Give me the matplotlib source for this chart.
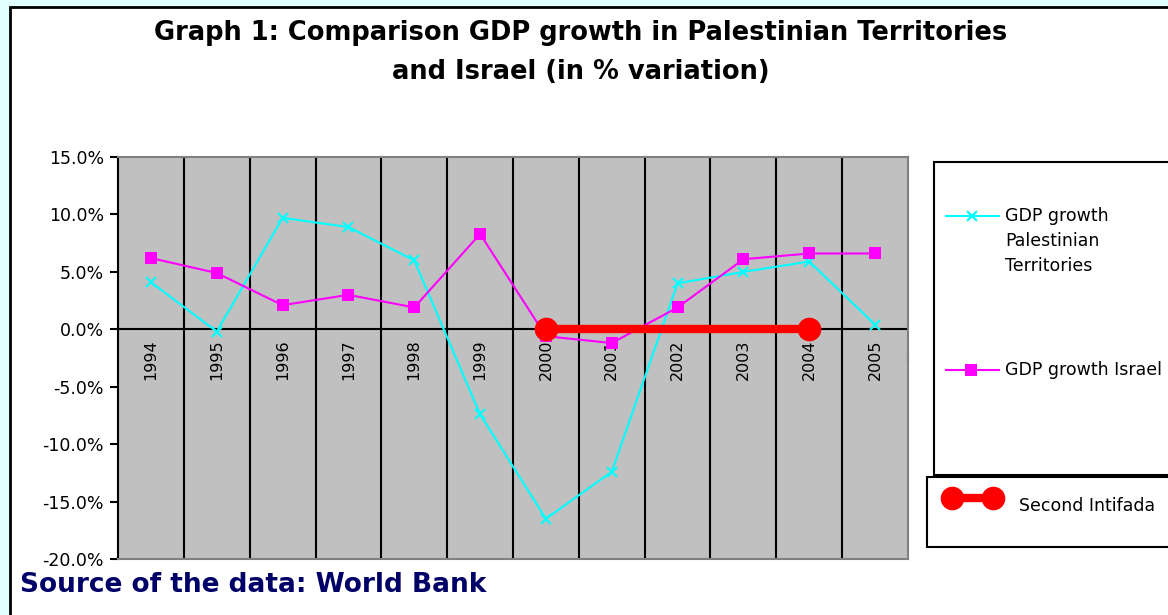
import matplotlib
matplotlib.use("Agg")
import matplotlib.pyplot as plt
from matplotlib.patches import Rectangle
from matplotlib.lines import Line2D

years = ["1994", "1995", "1996", "1997", "1998", "1999", "2000", "2001", "2002", "2003", "2004", "2005"]
gdp_palestine = [4.1, -0.2, 9.7, 8.9, 6.0, -7.4, -16.5, -12.4, 4.0, 5.0, 5.9, 0.4]
gdp_israel = [6.2, 4.9, 2.1, 3.0, 1.9, 8.3, -0.6, -1.2, 1.9, 6.1, 6.6, 6.6]
intifada_years = ["2000", "2004"]
intifada_values = [0.0, 0.0]
y_ticks = [-20, -15, -10, -5, 0, 5, 10, 15]

FONT = "DejaVu Sans"
W, H = 1168, 615
fig = plt.figure(figsize=(W / 100, H / 100), dpi=100)
fig.patch.set_facecolor("#E0FFFF")

def fx(px):
    return px / W

def fy(py):
    return 1 - py / H

# white chart frame
fig.patches.append(Rectangle((fx(10), fy(700)), fx(1300), 693 / H, transform=fig.transFigure,
                             facecolor="white", edgecolor="black", linewidth=2, zorder=-5))

ax = fig.add_axes([fx(118), fy(559), fx(908 - 118), (559 - 157) / H])
ax.set_zorder(2)
ax.set_facecolor("#C0C0C0")
x = list(range(len(years)))
ax.set_xlim(-0.5, len(years) - 0.5)
ax.set_ylim(-20, 15)

for b in [i + 0.5 for i in range(len(years) - 1)]:
    ax.axvline(b, color="black", linewidth=1.5, zorder=1)
ax.axhline(0, color="black", linewidth=1.5, zorder=1)

ax.plot(x, gdp_palestine, color="#00FFFF", linewidth=1.5, marker="x", markersize=7,
        markeredgewidth=1.5, zorder=3)
ax.plot(x, gdp_israel, color="#FF00FF", linewidth=1.5, marker="s", markersize=8,
        markeredgewidth=0, zorder=3)
ix = [years.index(y) for y in intifada_years]
ax.plot(ix, intifada_values, color="#FF0000", linewidth=6, marker="o", markersize=17,
        markeredgewidth=0, solid_capstyle="butt", zorder=4)

for i, lab in enumerate(years):
    ax.text(i, -0.9, lab, rotation=90, ha="center", va="top", fontsize=11.5,
            family=FONT, zorder=2)

ax.set_xticks([])
ax.set_yticks(y_ticks)
ax.set_yticklabels([f"{v:.1f}%" for v in y_ticks], fontsize=12.5, family=FONT)
ax.tick_params(axis="y", direction="out", length=6, width=1.5, pad=4)
for s in ["top", "right", "bottom"]:
    ax.spines[s].set_color("#808080")
    ax.spines[s].set_linewidth(1.5)
ax.spines["left"].set_color("black")
ax.spines["left"].set_linewidth(1.5)
# right-end tick on the zero axis
ax.plot([1.0, 1.0], [0.49, 0.515], transform=ax.transAxes, color="black", linewidth=1.5,
        clip_on=False)

fig.text(fx(581), fy(33), "Graph 1: Comparison GDP growth in Palestinian Territories",
         ha="center", va="center", fontsize=18.5, fontweight="bold", family=FONT)
fig.text(fx(581), fy(72), "and Israel (in % variation)",
         ha="center", va="center", fontsize=18.5, fontweight="bold", family=FONT)
fig.text(fx(20), fy(585), "Source of the data: World Bank", ha="left", va="center",
         fontsize=19, fontweight="bold", family=FONT, color="#000066")

# legend boxes
fig.patches.append(Rectangle((fx(934), fy(475)), fx(400), (475 - 162) / H, transform=fig.transFigure,
                             facecolor="white", edgecolor="black", linewidth=1.5, zorder=1))
fig.patches.append(Rectangle((fx(927), fy(547)), fx(400), (547 - 477) / H, transform=fig.transFigure,
                             facecolor="white", edgecolor="black", linewidth=1.5, zorder=1))

fig.lines.append(Line2D([fx(946), fx(999)], [fy(216), fy(216)], transform=fig.transFigure,
                        color="#00FFFF", linewidth=1.5, zorder=2))
fig.lines.append(Line2D([fx(972)], [fy(216)], transform=fig.transFigure, color="#00FFFF",
                        marker="x", markersize=7, markeredgewidth=1.5, zorder=3))
fig.text(fx(1005), fy(216), "GDP growth", ha="left", va="center", fontsize=12.5, family=FONT, zorder=3)
fig.text(fx(1005), fy(241), "Palestinian", ha="left", va="center", fontsize=12.5, family=FONT, zorder=3)
fig.text(fx(1005), fy(266), "Territories", ha="left", va="center", fontsize=12.5, family=FONT, zorder=3)

fig.lines.append(Line2D([fx(946), fx(999)], [fy(370), fy(370)], transform=fig.transFigure,
                        color="#FF00FF", linewidth=1.5, zorder=2))
fig.lines.append(Line2D([fx(971)], [fy(370)], transform=fig.transFigure, color="#FF00FF",
                        marker="s", markersize=8, markeredgewidth=0, zorder=3))
fig.text(fx(1005), fy(370), "GDP growth Israel", ha="left", va="center", fontsize=12.5, family=FONT, zorder=3)

fig.lines.append(Line2D([fx(952), fx(993)], [fy(498), fy(498)], transform=fig.transFigure,
                        color="#FF0000", linewidth=6, marker="o", markersize=17,
                        markeredgewidth=0, zorder=3))
fig.text(fx(1019), fy(506), "Second Intifada", ha="left", va="center", fontsize=12.5, family=FONT, zorder=3)

fig.savefig("out.png", dpi=100, facecolor=fig.get_facecolor())
